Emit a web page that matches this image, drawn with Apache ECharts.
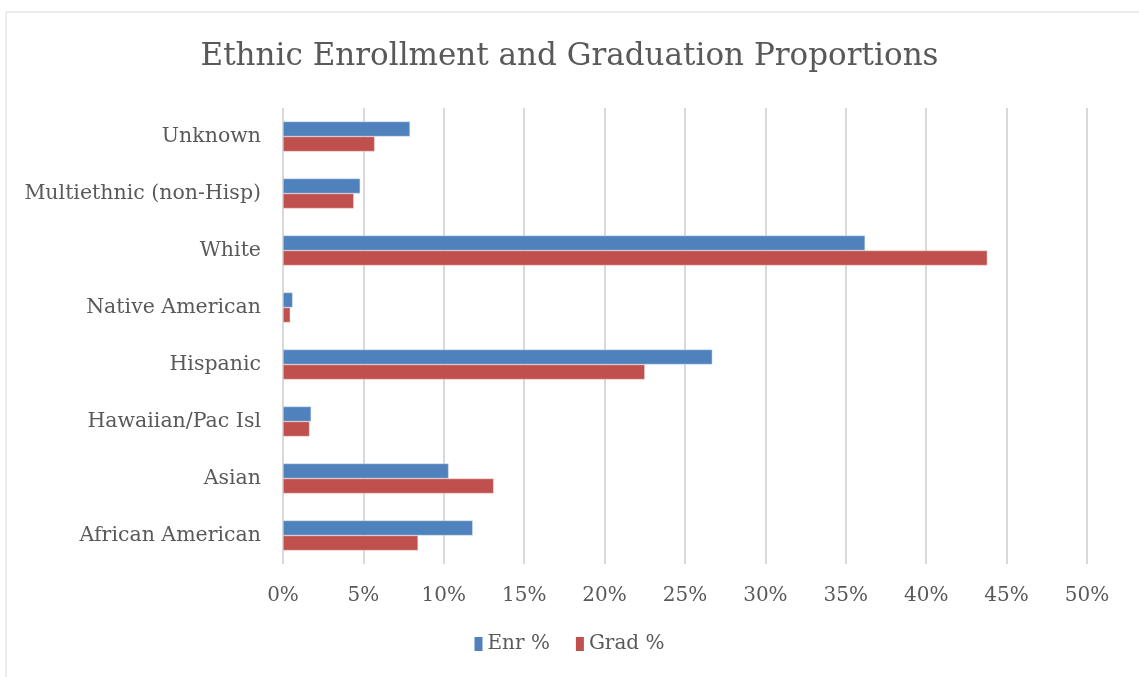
<!DOCTYPE html>
<html>
<head>
<meta charset="utf-8">
<script src="https://cdn.jsdelivr.net/npm/echarts@6/dist/echarts.min.js"></script>
<style>
  html, body { margin: 0; padding: 0; background: #fff; }
  #chart { width: 1139px; height: 677px; }
</style>
</head>
<body>
<div id="chart"></div>
<script>
// categories from bottom to top, as drawn on the y axis
var categories = ['African American', 'Asian', 'Hawaiian/Pac Isl', 'Hispanic',
  'Native American', 'White', 'Multiethnic (non-Hisp)', 'Unknown'];
var enrPct  = [11.8, 10.3, 1.75, 26.7, 0.6, 36.2, 4.8, 7.9];
var gradPct = [8.4, 13.1, 1.65, 22.5, 0.45, 43.8, 4.4, 5.7];
var xTicks = [0, 5, 10, 15, 20, 25, 30, 35, 40, 45, 50];

var font = 'DejaVu Serif';
var grey = '#595959';

var chart = echarts.init(document.getElementById('chart'));
chart.setOption({
  animation: false,
  title: {
    text: 'Ethnic Enrollment and Graduation Proportions',
    left: 'center',
    top: 36,
    textStyle: { fontFamily: font, fontSize: 31, fontWeight: 'normal', color: grey }
  },
  graphic: [{
    type: 'rect',
    shape: { x: 6, y: 12, width: 1150, height: 700 },
    style: { fill: 'none', stroke: '#d9d9d9', lineWidth: 1 }
  }],
  legend: {
    bottom: 18,
    left: 'center',
    itemWidth: 8,
    itemHeight: 14,
    itemGap: 26,
    icon: 'rect',
    itemStyle: { borderWidth: 0 },
    textStyle: { fontFamily: font, fontSize: 20, color: grey },
    data: ['Enr %', 'Grad %']
  },
  grid: { left: 283, right: 52, top: 108, bottom: 113, containLabel: false },
  xAxis: {
    type: 'value',
    min: xTicks[0],
    max: xTicks[xTicks.length - 1],
    interval: 5,
    axisLine: { show: false },
    axisTick: { show: false },
    splitLine: { lineStyle: { color: '#d9d9d9', width: 2 } },
    axisLabel: {
      fontFamily: font, fontSize: 20, color: grey, margin: 22,
      formatter: function (v) { return v + '%'; }
    }
  },
  yAxis: {
    type: 'category',
    data: categories,
    axisLine: { show: false },
    axisTick: { show: false },
    axisLabel: { fontFamily: font, fontSize: 20.5, color: grey, margin: 22 }
  },
  series: [
    {
      name: 'Enr %',
      type: 'bar',
      data: enrPct,
      barWidth: 15,
      barGap: '0%',
      itemStyle: { color: '#4f81bd', borderColor: '#dce6f2', borderWidth: 0.5 }
    },
    {
      name: 'Grad %',
      type: 'bar',
      data: gradPct,
      barWidth: 15,
      barGap: '0%',
      itemStyle: { color: '#c0504d', borderColor: '#f2dcdb', borderWidth: 0.5 }
    }
  ]
});
</script>
</body>
</html>
